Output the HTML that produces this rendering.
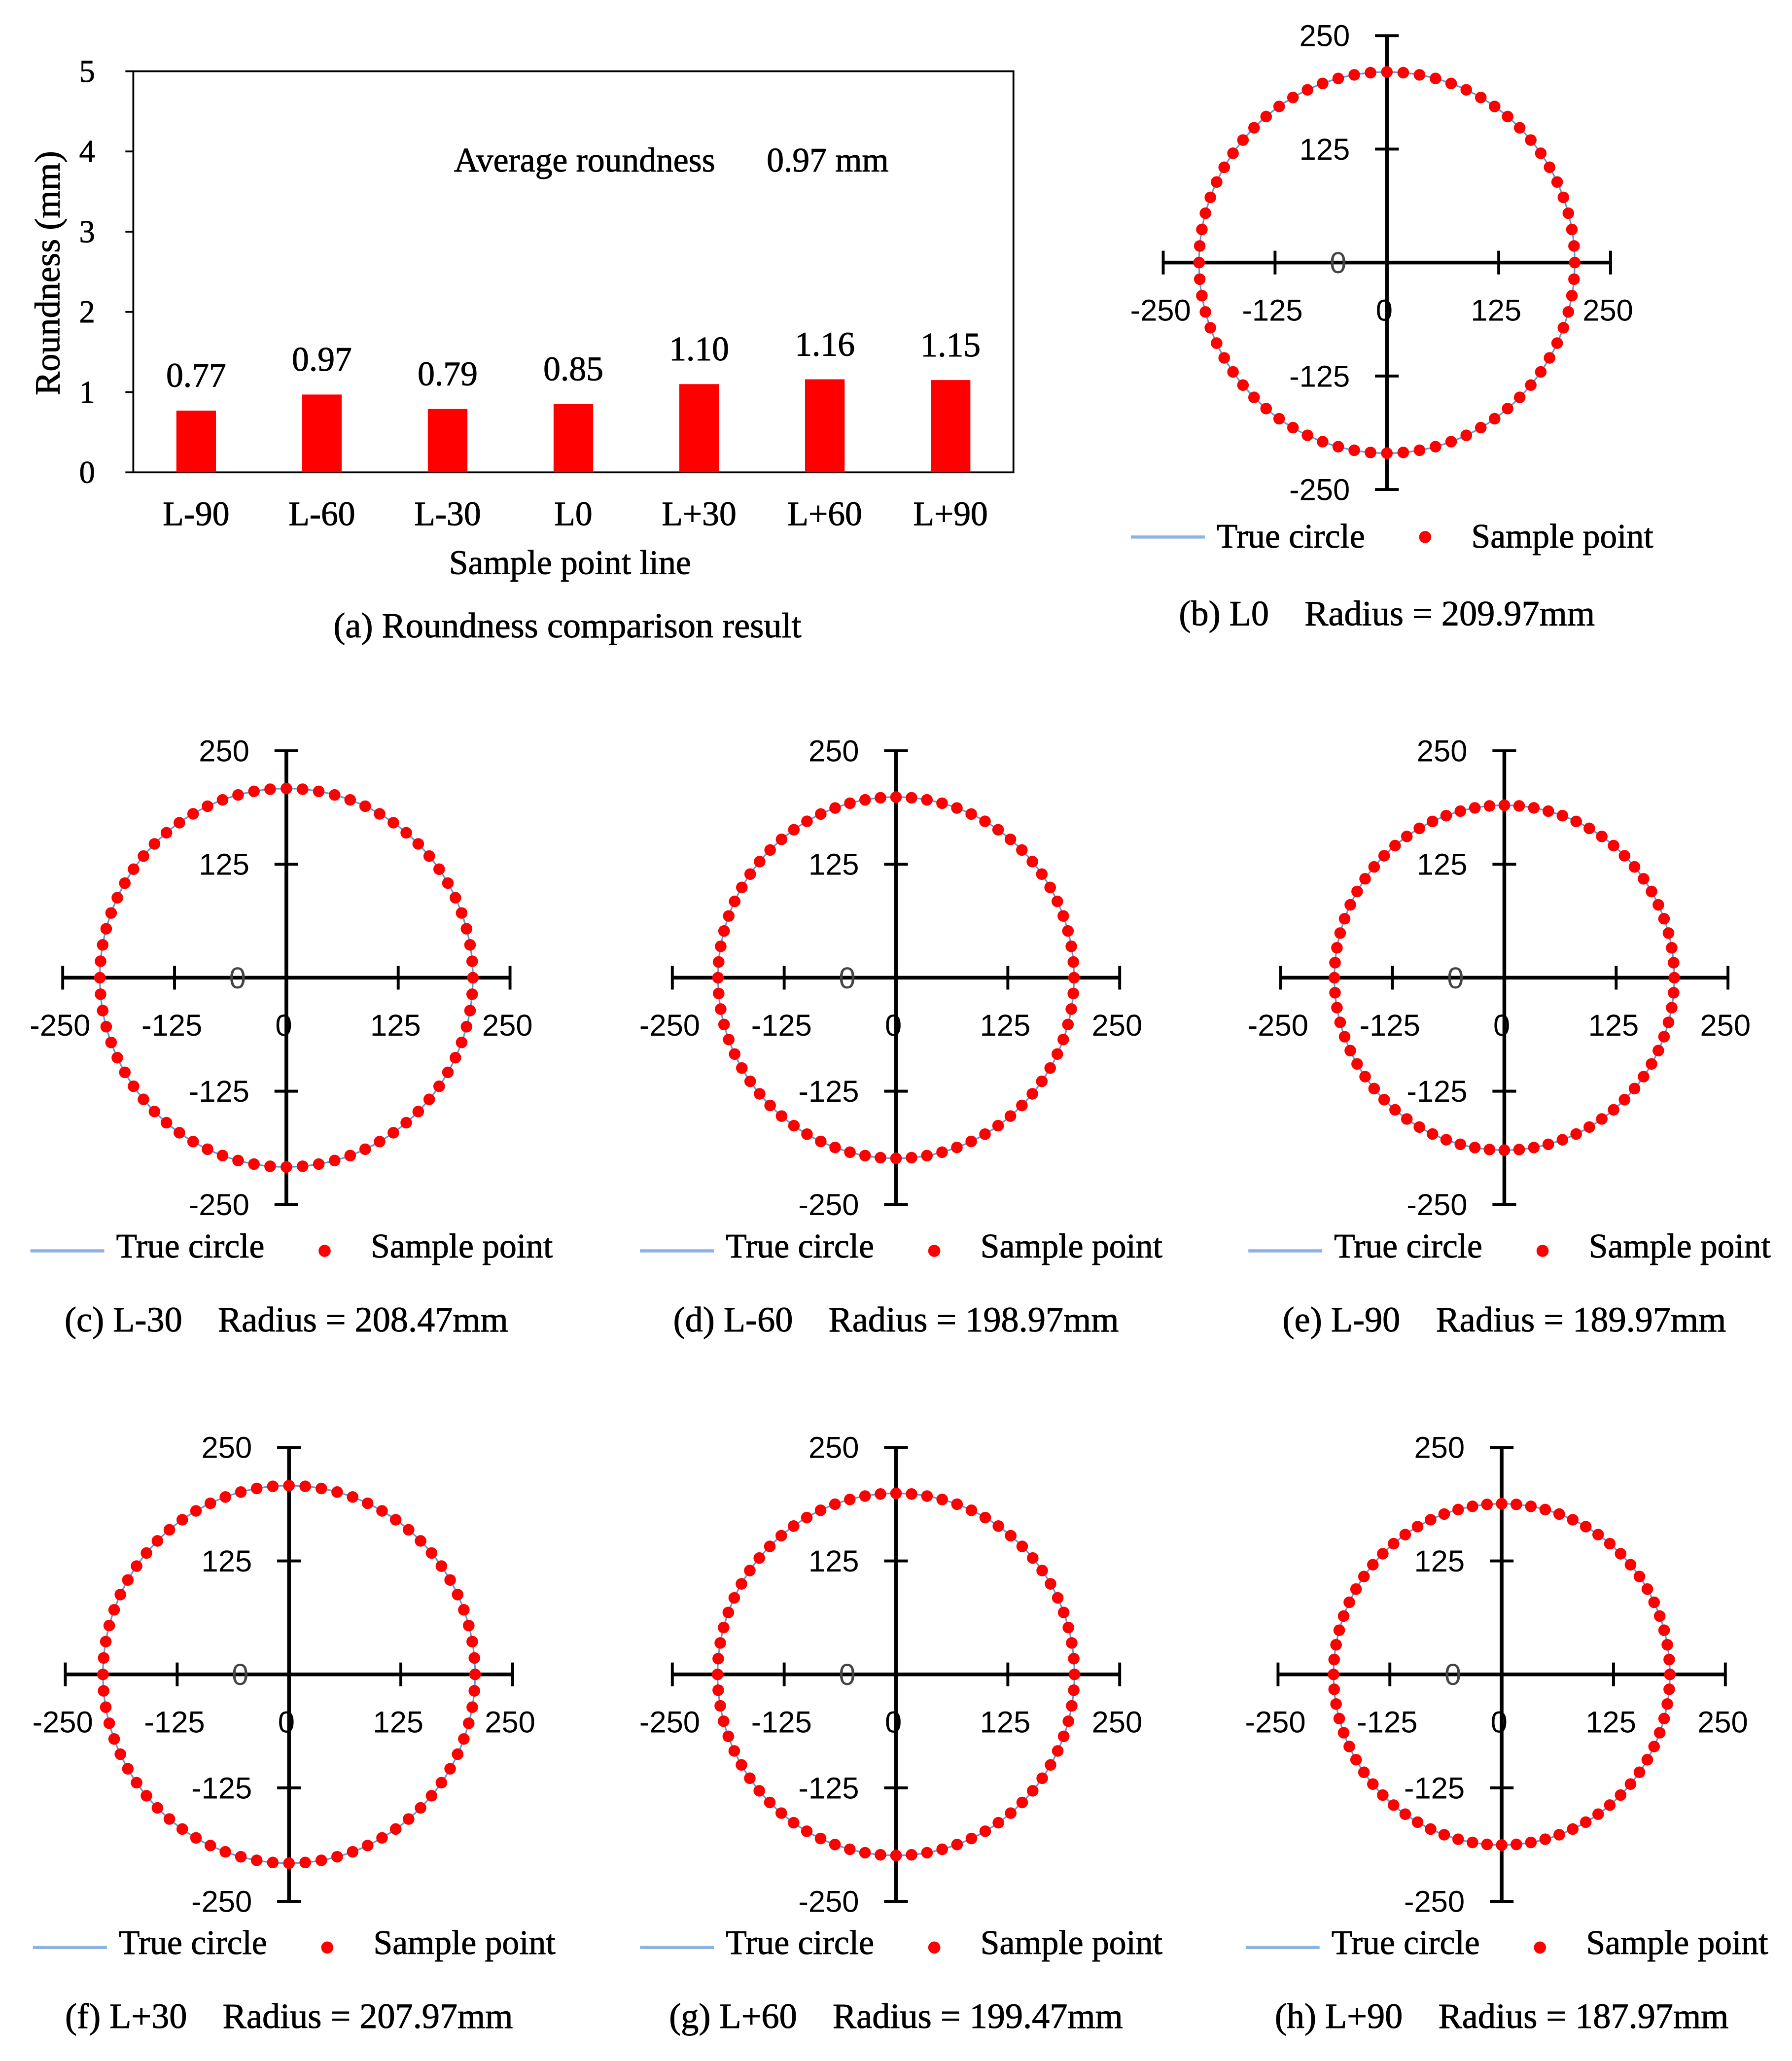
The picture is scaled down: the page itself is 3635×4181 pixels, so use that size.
<!DOCTYPE html>
<html><head><meta charset="utf-8"><style>
html,body{margin:0;padding:0;background:#fff}
svg{display:block}
.serif{font-family:"Liberation Serif",serif;stroke:#000;stroke-width:0.35}
.sans{font-family:"Liberation Sans",sans-serif}
</style></head><body>
<svg id="fig" xmlns="http://www.w3.org/2000/svg" width="3635" height="4181" viewBox="0 0 1358 1562">
<rect width="1358" height="1562" fill="#fff"/>
<g id="bar-chart"></g>
<g id="circles"></g>
</svg>
<script>
const categories = ["L-90","L-60","L-30","L0","L+30","L+60","L+90"];
const roundness = [0.77,0.97,0.79,0.85,1.10,1.16,1.15];
const valueLabels = ["0.77","0.97","0.79","0.85","1.10","1.16","1.15"];
const yTicks = [0,1,2,3,4,5];
const panelIds = ["b","c","d","e","f","g","h"];
const panelLines = ["L0","L-30","L-60","L-90","L+30","L+60","L+90"];
const panelRadii = [209.97,208.47,198.97,189.97,207.97,199.47,187.97];
const axisTicks = [-250,-125,0,125,250];
const sampleCount = 72;

const NS="http://www.w3.org/2000/svg";
function mk(tag,attrs,parent,text){const e=document.createElementNS(NS,tag);for(const k in attrs)e.setAttribute(k,attrs[k]);if(text!==undefined)e.textContent=text;parent.appendChild(e);return e;}

// ---- bar chart ----
const bc=document.getElementById('bar-chart');
const px0=101,px1=768,py0=358,py1=54;
const yS=v=>py0-(v-0)/(5-0)*(py0-py1);
const step=(px1-px0)/categories.length;
const xS=i=>px0+step*(i+0.5);
let e;
e=mk('rect',{x:px0,y:py1,width:px1-px0,height:py0-py1,fill:'none',stroke:'#000','stroke-width':1.4},bc);


yTicks.forEach(t=>{
  e=mk('line',{x1:px0-6,x2:px0,y1:yS(t),y2:yS(t),stroke:'#000','stroke-width':1.4},bc);
  
  
  e=mk('text',{x:px0-29,y:yS(t)+8,'text-anchor':'end','font-size':24,class:'serif'},bc,String(t));
  
  
});
categories.forEach((c,i)=>{
  const bw=30;
  e=mk('rect',{x:xS(i)-bw/2,y:yS(roundness[i]),width:bw,height:py0-yS(roundness[i]),fill:'#ff0000'},bc);
  
  
  e=mk('text',{x:xS(i),y:yS(roundness[i])-18,'text-anchor':'middle','font-size':26,class:'serif'},bc,valueLabels[i]);
  
  
  e=mk('text',{x:xS(i),y:398,'text-anchor':'middle','font-size':26,class:'serif'},bc,c);
  
  
});
e=mk('text',{x:432,y:435,'text-anchor':'middle','font-size':26,class:'serif'},bc,'Sample point line');


e=mk('text',{x:0,y:0,'text-anchor':'middle','font-size':27,class:'serif',transform:'translate(45,207) rotate(-90)'},bc,'Roundness (mm)');


e=mk('text',{x:344,y:130,'font-size':26,class:'serif'},bc,'Average roundness\u00a0\u00a0\u00a0\u00a0\u00a0 0.97 mm');


e=mk('text',{x:430,y:483,'text-anchor':'middle','font-size':27,class:'serif'},bc,'(a) Roundness comparison result');



// ---- circle panels ----
const centers=[[1051,199],[217,741],[679,741],[1140,741],[219,1269],[679,1269],[1138,1269]];
const cg=document.getElementById('circles');
panelIds.forEach((id,p)=>{
  const [cx,cy]=centers[p];
  const g=mk('g',{},cg);
  
  
  const sy=172/250, sx=169.5/250;
  const X=v=>cx+v*sx, Y=v=>cy-v*sy;
  e=mk('line',{x1:X(-250),x2:X(250),y1:cy,y2:cy,stroke:'#000','stroke-width':2.8},g);
  
  
  e=mk('line',{x1:cx,x2:cx,y1:Y(250),y2:Y(-250),stroke:'#000','stroke-width':2.8},g);
  
  
  axisTicks.forEach(t=>{
    if(t!==0){
      e=mk('line',{x1:X(t),x2:X(t),y1:cy-9,y2:cy+9,stroke:'#000','stroke-width':2.2},g);
      
      
      e=mk('line',{x1:cx-9,x2:cx+9,y1:Y(t),y2:Y(t),stroke:'#000','stroke-width':2.2},g);
      
      
      e=mk('text',{x:cx-28,y:Y(t)+8,'text-anchor':'end','font-size':23,class:'sans'},g,String(t));
      
      
    } else {
      e=mk('text',{x:cx-37,y:cy+8,'text-anchor':'middle','font-size':23,class:'sans',fill:'#444'},g,'0');
      
      
    }
    e=mk('text',{x:X(t)-2,y:cy+44,'text-anchor':'middle','font-size':23,class:'sans'},g,String(t));
    
    
  });
  const r=panelRadii[p];
  e=mk('ellipse',{cx:cx,cy:cy,rx:r*sx,ry:r*sy,fill:'none',stroke:'#5b9bd5','stroke-width':1.2},g);
  
  
  for(let k=0;k<sampleCount;k++){
    const a=k/sampleCount*2*Math.PI;
    e=mk('circle',{cx:X(r*Math.cos(a)),cy:Y(r*Math.sin(a)),r:4.4,fill:'#ff0000'},g);
    
    
  }
  const row1=(p===0);
  const ly=row1?cy+208:cy+207, lx=cx-194;
  e=mk('line',{x1:lx,x2:lx+56,y1:ly,y2:ly,stroke:'#8fb3e0','stroke-width':2.4},g);
  
  
  e=mk('text',{x:lx+65,y:ly+(row1?8:5),'font-size':26,class:'serif'},g,'True circle');
  
  
  e=mk('circle',{cx:lx+223,cy:ly,r:4.6,fill:'#ff0000'},g);
  
  
  e=mk('text',{x:lx+258,y:ly+(row1?8:5),'font-size':26,class:'serif'},g,'Sample point');
  
  
  e=mk('text',{x:cx,y:cy+(row1?275:268),'text-anchor':'middle','font-size':27,class:'serif'},g,'('+id+') '+panelLines[p]+'\u00a0\u00a0\u00a0 Radius = '+panelRadii[p].toFixed(2)+'mm');
  
  
});
</script>
</body></html>
